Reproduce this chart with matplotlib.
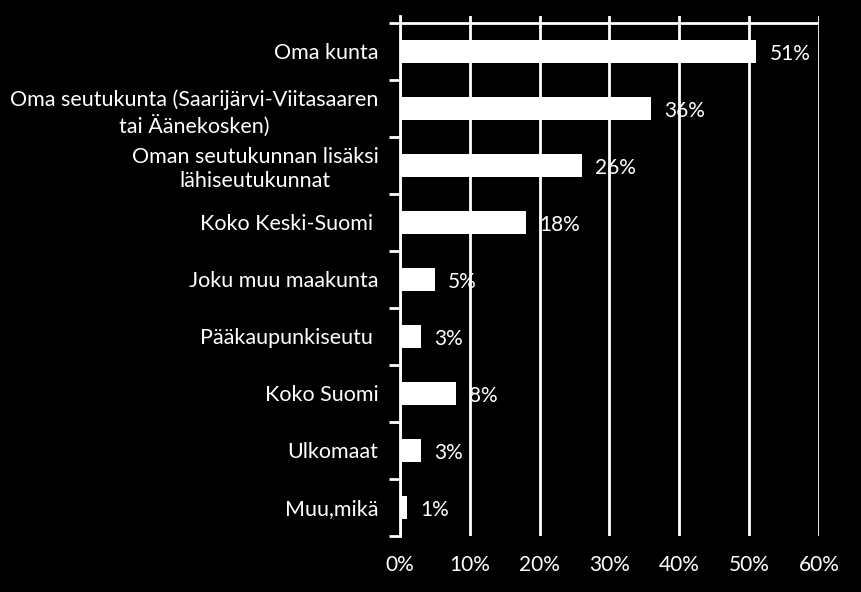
import matplotlib.pyplot as plt
import numpy as np

plt.rcParams['font.family'] = ['Lato', 'DejaVu Sans']

# Data (top to bottom)
categories = [
    "Oma kunta",
    "Oma seutukunta (Saarijärvi-Viitasaaren\ntai Äänekosken)",
    "Oman seutukunnan lisäksi\nlähiseutukunnat",
    "Koko Keski-Suomi ",
    "Joku muu maakunta",
    "Pääkaupunkiseutu ",
    "Koko Suomi",
    "Ulkomaat",
    "Muu,mikä",
]
values = [51, 36, 26, 18, 5, 3, 8, 3, 1]
xticks = [0, 10, 20, 30, 40, 50, 60]

fig = plt.figure(figsize=(8.62, 5.92), dpi=100, facecolor="black")
ax = fig.add_axes([0.464, 0.0946, 0.486, 0.8784], facecolor="black")

n = len(categories)
y = np.arange(n)
ax.barh(y, values, height=0.4, color="white", zorder=3)

for yi, v in zip(y, values):
    ax.text(v + 1.9, yi + 0.04, f"{v}%", color="white", fontsize=15,
            va="center", ha="left", zorder=4)

ax.set_xlim(0, 60)
# gridlines stick out a little above the top border line
ax.set_ylim(n - 0.5, -0.623)
ax.axhline(-0.5, color="white", linewidth=2, zorder=2)
ax.set_xticks(xticks)
ax.set_xticklabels([f"{t}%" for t in xticks])
ax.grid(axis="x", color="white", linewidth=2, zorder=1)
ax.tick_params(axis="x", length=0, colors="white", labelsize=15, pad=14)

ax.set_yticks(y)
ax.set_yticklabels(categories)
ax.set_yticks(np.arange(n + 1) - 0.5, minor=True)
ax.tick_params(axis="y", which="major", length=0, colors="white",
               labelsize=15.5, pad=15.5)
ax.tick_params(axis="y", which="minor", length=8, width=2, color="white")
for lbl in ax.get_yticklabels():
    lbl.set_multialignment("center")
    lbl.set_linespacing(1.25)

for side in ["top", "right", "bottom"]:
    ax.spines[side].set_visible(False)
ax.spines["left"].set_color("white")
ax.spines["left"].set_linewidth(2)
ax.spines["left"].set_zorder(5)

fig.savefig("out.png", dpi=100, facecolor="black")
